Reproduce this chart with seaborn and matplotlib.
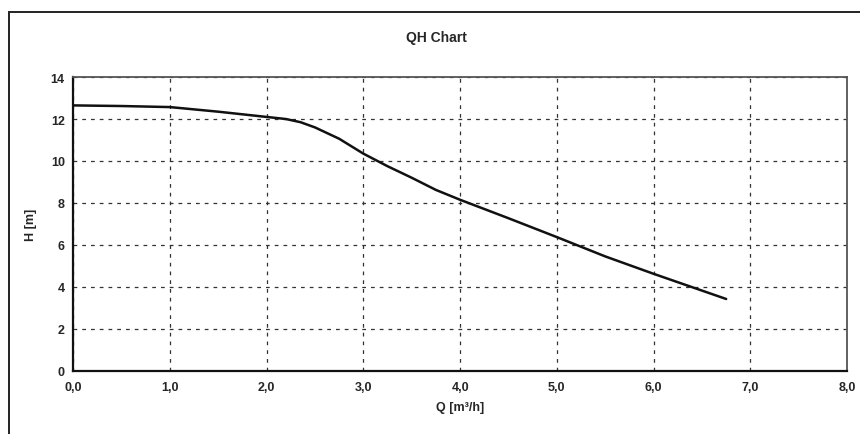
import numpy as np
import pandas as pd
import matplotlib
matplotlib.use("Agg")
import matplotlib.pyplot as plt
from matplotlib.patches import Rectangle
import seaborn as sns

# values
flow = [0.0, 0.5, 1.0, 1.5, 2.0, 2.2, 2.35, 2.5, 2.75, 3.0, 3.25, 3.5, 3.75, 4.0, 4.5, 5.0, 5.5, 6.0, 6.5, 6.75]
head = [12.65, 12.62, 12.57, 12.35, 12.1, 12.0, 11.85, 11.6, 11.06, 10.35, 9.75, 9.2, 8.62, 8.15,
        7.27, 6.37, 5.45, 4.62, 3.82, 3.42]
x_ticks = [0, 1, 2, 3, 4, 5, 6, 7, 8]
y_ticks = [0, 2, 4, 6, 8, 10, 12, 14]

sns.set_style("white")
plt.rcParams["font.family"] = ["Liberation Sans Narrow", "Liberation Sans", "DejaVu Sans"]

df = pd.DataFrame({"Q": flow, "H": head})

fig = plt.figure(figsize=(8.6, 4.35), dpi=100)
ax = fig.add_axes([0.085, 0.1455, 0.9, 0.675])

sns.lineplot(data=df, x="Q", y="H", ax=ax, color="#111111", linewidth=1.8)

ax.set_xlim(0, 8)
ax.set_ylim(0, 14)
ax.set_xticks(x_ticks)
ax.set_yticks(y_ticks)
ax.set_xticklabels([f"{v:.1f}".replace(".", ",") for v in x_ticks], fontweight="bold", fontsize=9)
ax.set_yticklabels([str(v) for v in y_ticks], fontweight="bold", fontsize=9)
ax.grid(True, color="#333333", linestyle=(0, (3, 4)), linewidth=0.9)
ax.tick_params(axis="y", direction="out", length=4, width=1, color="#222222", pad=2)
ax.tick_params(axis="x", direction="inout", length=7, width=1, color="#222222", pad=4)

for side in ["left", "bottom"]:
    ax.spines[side].set_color("#111111")
    ax.spines[side].set_linewidth(1.6)
for side in ["top", "right"]:
    ax.spines[side].set_color("#555555")
    ax.spines[side].set_linewidth(1.3)

ax.set_xlabel("Q [m³/h]", fontweight="bold", fontsize=9, labelpad=6)
ax.set_ylabel("H [m]", fontweight="bold", fontsize=9, labelpad=10)

fig.text(0.508, 0.912, "QH Chart", ha="center", va="center", fontweight="bold", fontsize=10)

# outer chart frame
fig.patches.append(Rectangle((0.011, -0.01), 1.02, 0.98, transform=fig.transFigure,
                             fill=False, edgecolor="#222222", linewidth=1.4))

fig.savefig("out.png", dpi=100)
